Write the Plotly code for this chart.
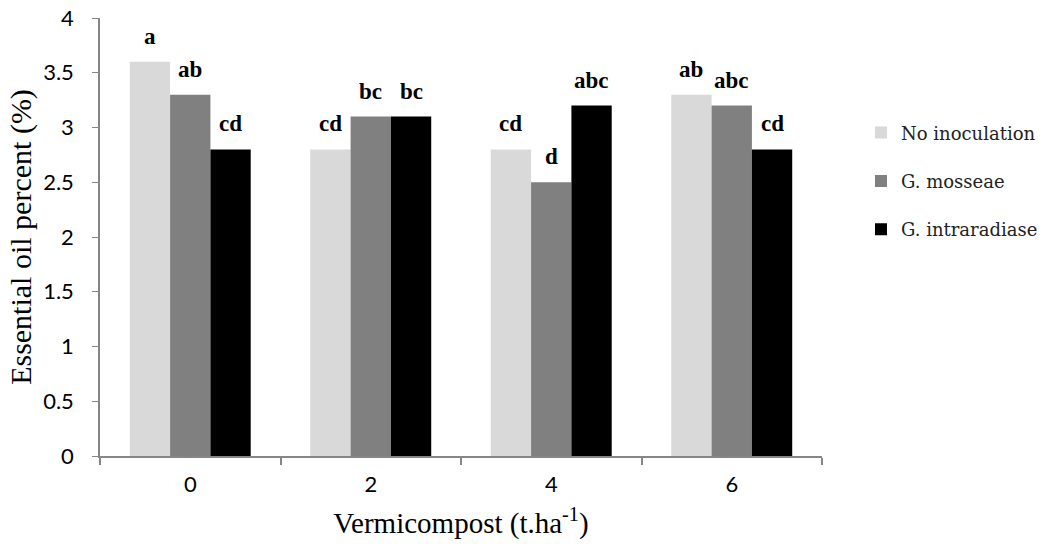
import plotly.graph_objects as go

categories = ["0", "2", "4", "6"]
series_names = ["No inoculation", "G. mosseae", "G. intraradiase"]
no_inoc = [3.6, 2.8, 2.8, 3.3]
g_mosseae = [3.3, 3.1, 2.5, 3.2]
g_intra = [2.8, 3.1, 3.2, 2.8]
labels_no_inoc = ["a", "cd", "cd", "ab"]
labels_mosseae = ["ab", "bc", "d", "abc"]
labels_intra = ["cd", "bc", "abc", "cd"]
colors = ["#d9d9d9", "#808080", "#000000"]

values = [no_inoc, g_mosseae, g_intra]
letters = [labels_no_inoc, labels_mosseae, labels_intra]

fig = go.Figure()
for i, (name, vals) in enumerate(zip(series_names, values)):
    fig.add_trace(go.Bar(
        x=categories, y=vals, name=name,
        marker=dict(color=colors[i], line=dict(width=0)),
        legendgroup=name,
    ))

bar_px = 40.5
for i, (vals, lab) in enumerate(zip(values, letters)):
    for j, (v, t) in enumerate(zip(vals, lab)):
        fig.add_annotation(
            x=j, y=v, text="<b>%s</b>" % t, showarrow=False,
            xanchor="center", yanchor="bottom",
            xshift=(i - 1) * bar_px, yshift=11,
            font=dict(family="Liberation Serif", size=23, color="black"),
        )

fig.update_layout(
    width=1055, height=544,
    margin=dict(l=100, r=230, t=18, b=88),
    paper_bgcolor="white", plot_bgcolor="white",
    barmode="group", bargap=0.33, bargroupgap=0,
    legend=dict(
        x=1.054, y=0.78, xanchor="left", yanchor="top",
        font=dict(family="DejaVu Serif", size=18, color="#222222"),
        tracegroupgap=22, traceorder="grouped",
        itemwidth=30,
    ),
    xaxis=dict(
        type="category", automargin=False,
        title=dict(text="Vermicompost (t.ha<sup>-1</sup>)",
                   font=dict(family="Liberation Serif", size=29, color="black"), standoff=16),
        showline=True, linecolor="#868686", linewidth=2,
        ticks="outside", tickson="boundaries", ticklen=7, tickcolor="#868686", tickwidth=1.5,
        tickfont=dict(family="Lato", size=22, color="black"),
        ticklabelstandoff=8,
        showgrid=False,
    ),
    yaxis=dict(
        automargin=False,
        title=dict(text="Essential oil percent (%)",
                   font=dict(family="Liberation Serif", size=30, color="black"), standoff=3),
        range=[0, 4], dtick=0.5,
        showline=True, linecolor="#868686", linewidth=1.5,
        ticks="outside", ticklen=6, tickcolor="#868686",
        tickfont=dict(family="Lato", size=22, color="black"),
        ticklabelstandoff=14,
        ticklabeloverflow="allow",
        showgrid=False, zeroline=False,
    ),
)

fig.write_html("out.html", config={"displayModeBar": False},
               post_script="document.body.style.margin='0px';")
